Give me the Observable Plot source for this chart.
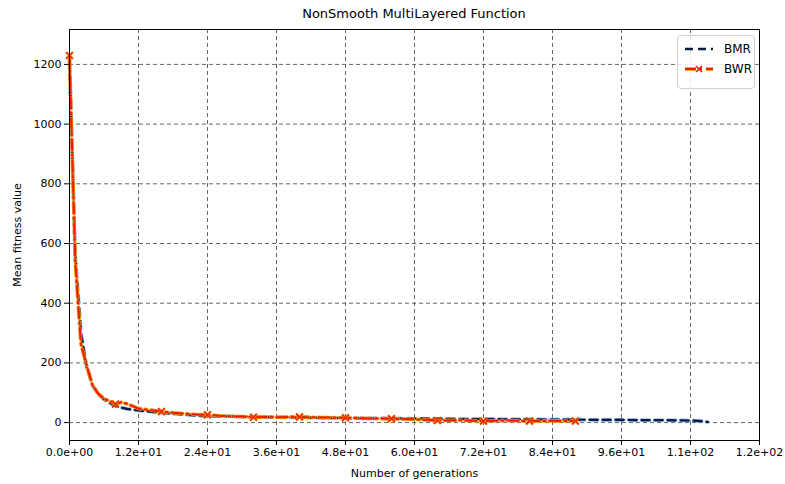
<!DOCTYPE html>
<html>
<head>
<meta charset="utf-8">
<script src="https://cdn.jsdelivr.net/npm/d3@7"></script>
<script src="https://cdn.jsdelivr.net/npm/@observablehq/plot@0.6"></script>
<style>
  body { margin: 0; background: #fff; font-family: "DejaVu Sans", sans-serif; }
  #wrap { position: relative; width: 785px; height: 484px; }
  #title { position: absolute; left: 69px; width: 690px; top: 6px; text-align: center; font-size: 13px; color: #000; }
  #legend { position: absolute; left: 677px; top: 35px; width: 76px; height: 52px; border: 1px solid #d0d0d0; border-radius: 4px; background: rgba(255,255,255,0.85); font-size: 12px; }
  .row { position: absolute; left: 6px; display: flex; align-items: center; }
  .row span { margin-left: 10px; }
</style>
</head>
<body>
<div id="wrap">
  <div id="chart"></div>
  <div id="title">NonSmooth MultiLayered Function</div>
  <div id="legend">
    <div class="row" style="top:6px">
      <svg width="30" height="12"><line x1="1" y1="6" x2="29" y2="6" stroke="#0b1a40" stroke-width="2.5" stroke-dasharray="8,5"/></svg>
      <span>BMR</span>
    </div>
    <div class="row" style="top:26px">
      <svg width="30" height="12"><line x1="1" y1="6" x2="29" y2="6" stroke="#ff8c00" stroke-width="3.5" stroke-dasharray="11,4,2,4"/><line x1="1" y1="6" x2="29" y2="6" stroke="#e51d0a" stroke-width="2" stroke-dasharray="11,4,2,4"/><path d="M12,3 L18,9 M12,9 L18,3" stroke="#e51d0a" stroke-width="1.6"/></svg>
      <span>BWR</span>
    </div>
  </div>
</div>
<script>
// BMR series
const bmrGen = [0, 1, 2, 3, 4, 5, 6, 7, 8, 9, 10, 11, 12, 14, 16, 18, 20, 22, 24, 28, 32, 36, 40, 44, 48, 52, 56, 60, 64, 68, 72, 76, 80, 84, 88, 92, 96, 100, 104, 108, 110, 111];
const bmrVal = [1210, 560, 300, 185, 125, 95, 78, 66, 56, 50, 46, 43, 41, 37, 33, 30, 27, 24, 22, 21, 19, 18, 17, 16, 15, 14, 14, 13, 13, 12, 12, 11, 11, 10, 10, 9, 9, 8, 8, 7, 5, 2];
// BWR series
const bwrGen = [0, 1, 2, 3, 4, 5, 6, 7, 8, 9, 10, 11, 12, 14, 16, 18, 20, 22, 24, 26, 28, 30, 32, 34, 36, 38, 40, 44, 48, 52, 56, 60, 64, 68, 72, 76, 80, 84, 88];
const bwrVal = [1230, 540, 262, 190, 125, 97, 80, 72, 62, 68, 63, 55, 47, 42, 37, 33, 30, 27, 26, 23, 21, 20, 18, 19, 18, 19, 19, 17, 16, 14, 13, 11, 7, 8, 5, 7, 5, 6, 5];
// ticks
const xTicks = [0, 12, 24, 36, 48, 60, 72, 84, 96, 108, 120];
const yTicks = [0, 200, 400, 600, 800, 1000, 1200];

const bmr = bmrGen.map((g, i) => ({g, v: bmrVal[i]}));
const bwr = bwrGen.map((g, i) => ({g, v: bwrVal[i]}));
const bwrMarks = bwr.filter(d => d.g % 8 === 0);

const fmt = v => v.toExponential(1).replace(/e([+-])(\d+)$/, (m, s, e) => "e" + s + (e.length < 2 ? "0" + e : e));

const chart = Plot.plot({
  width: 785,
  height: 484,
  marginLeft: 69,
  marginRight: 26,
  marginTop: 29,
  marginBottom: 44,
  style: { fontFamily: "DejaVu Sans, sans-serif", fontSize: "11px", color: "#000", background: "#fff" },
  x: { domain: [0, 120] },
  y: { domain: [-60, 1317] },
  marks: [
    Plot.gridX(xTicks, { stroke: "#555", strokeOpacity: 0.9, strokeDasharray: "4,3" }),
    Plot.gridY(yTicks, { stroke: "#555", strokeOpacity: 0.9, strokeDasharray: "4,3" }),
    Plot.line(bmr, { x: "g", y: "v", stroke: "#3f86d6", strokeWidth: 3.6, strokeDasharray: "8,5", strokeOpacity: 0.7 }),
    Plot.line(bmr, { x: "g", y: "v", stroke: "#0b1a40", strokeWidth: 2.2, strokeDasharray: "8,5" }),
    Plot.line(bwr, { x: "g", y: "v", stroke: "#ff8c00", strokeWidth: 3.6, strokeDasharray: "11,4,2,4" }),
    Plot.line(bwr, { x: "g", y: "v", stroke: "#e51d0a", strokeWidth: 2, strokeDasharray: "11,4,2,4" }),
    Plot.dot(bwrMarks, { x: "g", y: "v", symbol: "times", r: 3.2, stroke: "#ff8c00", strokeWidth: 2.4 }),
    Plot.dot(bwrMarks, { x: "g", y: "v", symbol: "times", r: 3.2, stroke: "#e51d0a", strokeWidth: 1.2 }),
    Plot.axisX(xTicks, { tickFormat: fmt, tickSize: 5, tickPadding: 3, label: "Number of generations", labelAnchor: "center", labelOffset: 36, labelArrow: "none", fontSize: 11 }),
    Plot.axisY(yTicks, { tickFormat: d => String(d), tickSize: 5, tickPadding: 3, label: "Mean fitness value", labelAnchor: "center", labelOffset: 56, labelArrow: "none", fontSize: 11 }),
    Plot.frame({ stroke: "#000", strokeWidth: 1 })
  ]
});
document.getElementById("chart").appendChild(chart);
</script>
</body>
</html>
